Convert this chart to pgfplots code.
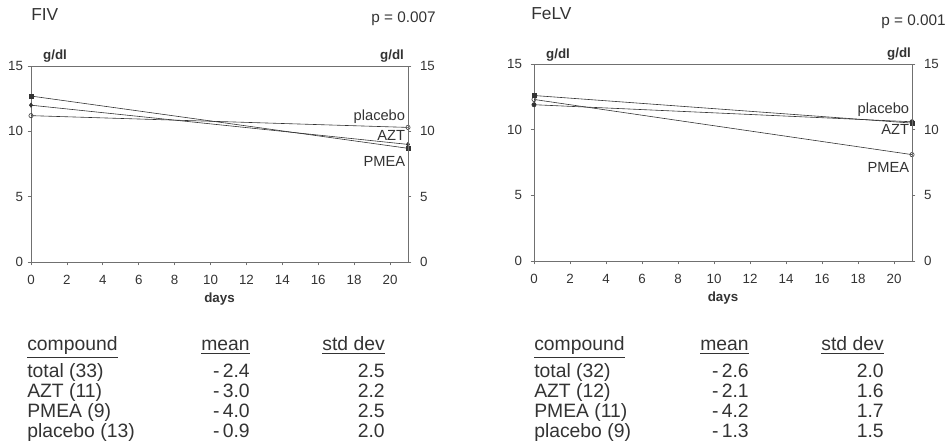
\documentclass[border=0pt]{standalone}
\usepackage{fontspec}
\setmainfont{Liberation Sans}
\usepackage{pgfplots}
\pgfplotsset{compat=1.18}
\definecolor{ink}{HTML}{333333}
\definecolor{rule}{HTML}{707070}

\tikzset{lab/.style={font=\fontsize{11}{12}\selectfont, text=ink, anchor=base east, inner sep=2pt}}
\pgfplotsset{
  hb/.style={
    scale only axis,
    xmin=0, xmax=21, ymin=0, ymax=15,
    xtick={0,2,...,20}, ytick={0,5,10,15},
    xtick pos=bottom, ytick pos=left,
    tick align=outside, major tick length=2.5pt,
    axis line style={rule, line width=0.5pt},
    tick style={rule, line width=0.5pt},
    ticklabel style={font=\fontsize{10}{11}\selectfont, text=ink},
    xticklabel style={yshift=-4pt},
    /pgf/number format/assume math mode=true,
    xlabel={\bfseries days}, xlabel style={font=\fontsize{10}{11}\selectfont, text=ink, yshift=1pt},
    every axis plot/.append style={line width=0.45pt, ink, mark size=1.6pt},
  },
  hbr/.style={
    scale only axis,
    xmin=0, xmax=21, ymin=0, ymax=15,
    ytick={0,5,10,15},
    axis x line=none, axis y line*=right,
    tick align=outside, major tick length=2.5pt,
    axis line style={rule, line width=0.5pt},
    tick style={rule, line width=0.5pt},
    ticklabel style={font=\fontsize{10}{11}\selectfont, text=ink, xshift=3pt},
    /pgf/number format/assume math mode=true,
  },
}

\begin{document}
\begin{tikzpicture}
\useasboundingbox (0,0) rectangle (714pt,334.5pt);

% FIV
\begin{axis}[hb, at={(23.25pt,138pt)}, width=282.75pt, height=147pt]
\addplot[mark=square*] coordinates {(0,12.7) (21,8.7)};
\addplot[mark=diamond*] coordinates {(0,12.0) (21,9.0)};
\addplot[mark=o] coordinates {(0,11.2) (21,10.3)};
\node[lab] at (axis cs:21,10.82) {placebo};
\node[lab] at (axis cs:21,9.28) {AZT};
\node[lab] at (axis cs:21,7.3) {PMEA};
\end{axis}
\begin{axis}[hbr, at={(23.25pt,138pt)}, width=282.75pt, height=147pt]
\end{axis}

% FeLV
\begin{axis}[hb, at={(400.5pt,138.75pt)}, width=283.5pt, height=147.75pt,
  yticklabel style={xshift=-3pt}]
\addplot[mark=square*] coordinates {(0,12.6) (21,10.5)};
\addplot[mark=o] coordinates {(0,12.3) (21,8.1)};
\addplot[mark=*] coordinates {(0,11.9) (21,10.6)};
\node[lab] at (axis cs:21,11.21) {placebo};
\node[lab] at (axis cs:21,9.62) {AZT};
\node[lab] at (axis cs:21,6.77) {PMEA};
\end{axis}
\begin{axis}[hbr, at={(400.5pt,138.75pt)}, width=283.5pt, height=147.75pt]
\end{axis}

\begin{scope}[x=0.75pt, y=-0.75pt, shift={(0pt,334.5pt)}, every node/.style={text=ink, inner sep=0pt}]
% titles
\node[anchor=base west, font=\fontsize{13}{14}\selectfont] at (31,21) {FIV};
\node[anchor=base east, font=\fontsize{11.5}{13}\selectfont] at (436,23) {p = 0.007};
\node[anchor=base west, font=\fontsize{13}{14}\selectfont] at (531,19.5) {FeLV};
\node[anchor=base east, font=\fontsize{11.5}{13}\selectfont] at (946,26) {p = 0.001};
% units
\node[font=\fontsize{10}{11}\selectfont\bfseries] at (55,56) {g/dl};
\node[font=\fontsize{10}{11}\selectfont\bfseries] at (392,56) {g/dl};
\node[font=\fontsize{10}{11}\selectfont\bfseries] at (558,55) {g/dl};
\node[font=\fontsize{10}{11}\selectfont\bfseries] at (899,54) {g/dl};
% FIV table
\begin{scope}[every node/.append style={font=\fontsize{14.5}{16}\selectfont}]
\node[anchor=base west] at (27,351) {\underline{compound}};
\node[anchor=base east] at (250,351) {\underline{mean}};
\node[anchor=base east] at (385,351) {\underline{std dev}};
\node[anchor=base west] at (27,377) {total (33)};
\node[anchor=base west] at (27,397) {AZT (11)};
\node[anchor=base west] at (27,417) {PMEA (9)};
\node[anchor=base west] at (27,437) {placebo (13)};
\node[anchor=base east] at (250,377) {-\,2.4};
\node[anchor=base east] at (250,397) {-\,3.0};
\node[anchor=base east] at (250,417) {-\,4.0};
\node[anchor=base east] at (250,437) {-\,0.9};
\node[anchor=base east] at (385,377) {2.5};
\node[anchor=base east] at (385,397) {2.2};
\node[anchor=base east] at (385,417) {2.5};
\node[anchor=base east] at (385,437) {2.0};
% FeLV table
\node[anchor=base west] at (534,351) {\underline{compound}};
\node[anchor=base east] at (749,351) {\underline{mean}};
\node[anchor=base east] at (884,351) {\underline{std dev}};
\node[anchor=base west] at (534,377) {total (32)};
\node[anchor=base west] at (534,397) {AZT (12)};
\node[anchor=base west] at (534,417) {PMEA (11)};
\node[anchor=base west] at (534,437) {placebo (9)};
\node[anchor=base east] at (749,377) {-\,2.6};
\node[anchor=base east] at (749,397) {-\,2.1};
\node[anchor=base east] at (749,417) {-\,4.2};
\node[anchor=base east] at (749,437) {-\,1.3};
\node[anchor=base east] at (884,377) {2.0};
\node[anchor=base east] at (884,397) {1.6};
\node[anchor=base east] at (884,417) {1.7};
\node[anchor=base east] at (884,437) {1.5};
\end{scope}
\end{scope}
\end{tikzpicture}
\end{document}
